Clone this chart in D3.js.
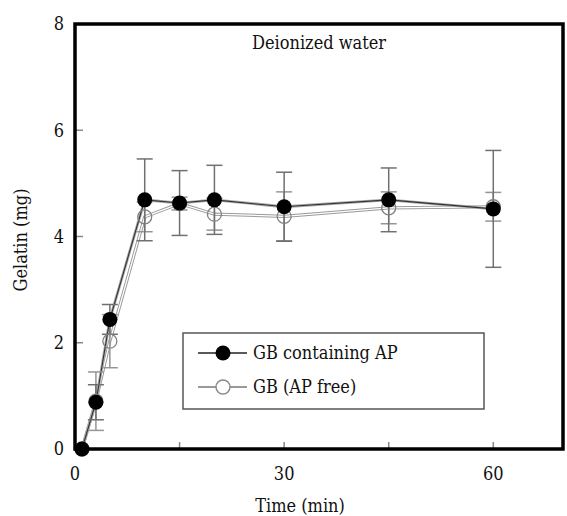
<!DOCTYPE html>
<html>
<head>
<meta charset="utf-8">
<script src="https://cdn.jsdelivr.net/npm/d3@7/dist/d3.min.js"></script>
<style>
  html, body { margin: 0; padding: 0; background: #fff; }
  svg { display: block; }
  svg text { font-family: "DejaVu Serif Condensed", "DejaVu Serif", serif; font-stretch: condensed; }
</style>
</head>
<body>
<svg id="chart" width="567" height="516"></svg>
<script>
// ---- data ----
const times      = [1, 3, 5, 10, 15, 20, 30, 45, 60];
const withAP     = [0, 0.88, 2.44, 4.69, 4.63, 4.69, 4.56, 4.69, 4.52];
const withAPErr  = [0, 0.33, 0.28, 0.77, 0.61, 0.65, 0.65, 0.60, 1.10];
const apFree     = [0, 0.90, 2.03, 4.37, 4.62, 4.42, 4.38, 4.54, 4.56];
const apFreeErr  = [0, 0.55, 0.50, 0.28, 0.12, 0.30, 0.46, 0.30, 0.27];
const xTicks     = [0, 15, 30, 45, 60];
const xTickLabels = ["0", "", "30", "", "60"];
const yTicks     = [0, 2, 4, 6, 8];
const seriesNames = ["GB containing AP", "GB (AP free)"];
const title = "Deionized water";
const xLabel = "Time (min)";
const yLabel = "Gelatin (mg)";

// ---- layout ----
const svg = d3.select("#chart");
const L = 75, R = 563, T = 24, B = 449;
const x = d3.scaleLinear().domain([0, 70]).range([L, R]);
const y = d3.scaleLinear().domain([0, 8]).range([B, T]);

const s1 = times.map((t, i) => ({t, v: withAP[i], e: withAPErr[i]}));
const s2 = times.map((t, i) => ({t, v: apFree[i], e: apFreeErr[i]}));

function txt(sel) { return sel.attr("fill", "#111"); }

// ticks (inward)
const tickColor = "#888";
svg.append("g").selectAll("line").data(yTicks.filter(d => d > 0 && d < 8)).join("line")
  .attr("x1", L).attr("x2", L + 8).attr("y1", d => y(d)).attr("y2", d => y(d))
  .attr("stroke", tickColor).attr("stroke-width", 1.5);
svg.append("g").selectAll("line").data(xTicks.filter(d => d > 0)).join("line")
  .attr("x1", d => x(d)).attr("x2", d => x(d)).attr("y1", B).attr("y2", B - 7)
  .attr("stroke", tickColor).attr("stroke-width", 1.5);

// tick labels
txt(svg.append("g").selectAll("text").data(yTicks).join("text")
  .attr("x", 64).attr("y", d => y(d)).attr("dy", "0.35em")
  .attr("text-anchor", "end").attr("font-size", 18).text(d => d));
txt(svg.append("g").selectAll("text").data(xTicks.map((d, i) => ({d, l: xTickLabels[i]}))).join("text")
  .attr("x", d => x(d.d)).attr("y", 480)
  .attr("text-anchor", "middle").attr("font-size", 18).text(d => d.l));

// axis titles
txt(svg.append("text").attr("x", 300).attr("y", 512).attr("text-anchor", "middle")
  .attr("font-size", 18).text(xLabel));
txt(svg.append("text").attr("transform", "translate(27,240) rotate(-90)")
  .attr("text-anchor", "middle").attr("font-size", 18).text(yLabel));

// title inside plot
txt(svg.append("text").attr("x", 252).attr("y", 49)
  .attr("font-size", 18).text(title));

// lines
const line = d3.line().x(d => x(d.t)).y(d => y(d.v));
svg.append("path").datum(s2).attr("d", line).attr("fill", "none")
  .attr("stroke", "#999").attr("stroke-width", 3.2);
svg.append("path").datum(s2).attr("d", line).attr("fill", "none")
  .attr("stroke", "#fff").attr("stroke-width", 1.3);
svg.append("path").datum(s1).attr("d", line).attr("fill", "none")
  .attr("stroke", "#aaa").attr("stroke-width", 2.8);
svg.append("path").datum(s1).attr("d", line).attr("fill", "none")
  .attr("stroke", "#333").attr("stroke-width", 1.1);

// error bars
function errBars(data, color) {
  const g = svg.append("g").attr("stroke", color).attr("stroke-width", 1.5);
  const d2 = data.filter(d => d.e > 0);
  g.selectAll(".v").data(d2).join("line")
    .attr("x1", d => x(d.t)).attr("x2", d => x(d.t))
    .attr("y1", d => y(d.v - d.e)).attr("y2", d => y(d.v + d.e));
  g.selectAll(".t").data(d2).join("line")
    .attr("x1", d => x(d.t) - 8).attr("x2", d => x(d.t) + 8)
    .attr("y1", d => y(d.v + d.e)).attr("y2", d => y(d.v + d.e));
  g.selectAll(".b").data(d2).join("line")
    .attr("x1", d => x(d.t) - 8).attr("x2", d => x(d.t) + 8)
    .attr("y1", d => y(d.v - d.e)).attr("y2", d => y(d.v - d.e));
}
errBars(s2, "#959595");
errBars(s1, "#707070");

// markers
svg.append("g").selectAll("circle").data(s2).join("circle")
  .attr("cx", d => x(d.t)).attr("cy", d => y(d.v)).attr("r", 7)
  .attr("fill", "none").attr("stroke", "#808080").attr("stroke-width", 1.3);
svg.append("g").selectAll("circle").data(s1).join("circle")
  .attr("cx", d => x(d.t)).attr("cy", d => y(d.v)).attr("r", 7.5)
  .attr("fill", "#000");

// frame
svg.append("rect").attr("x", L).attr("y", T).attr("width", R - L).attr("height", B - T)
  .attr("fill", "none").attr("stroke", "#000").attr("stroke-width", 3.5);

// legend
const lg = svg.append("g");
lg.append("rect").attr("x", 183).attr("y", 333).attr("width", 301).attr("height", 76)
  .attr("fill", "#fff").attr("stroke", "#555").attr("stroke-width", 1.5);
const rows = [353, 387];
lg.append("line").attr("x1", 198).attr("x2", 247).attr("y1", rows[0]).attr("y2", rows[0])
  .attr("stroke", "#222").attr("stroke-width", 1.6);
lg.append("circle").attr("cx", 223).attr("cy", rows[0]).attr("r", 7.5).attr("fill", "#000");
lg.append("line").attr("x1", 198).attr("x2", 247).attr("y1", rows[1]).attr("y2", rows[1])
  .attr("stroke", "#777").attr("stroke-width", 1.6);
lg.append("circle").attr("cx", 223).attr("cy", rows[1]).attr("r", 7)
  .attr("fill", "#fff").attr("stroke", "#888").attr("stroke-width", 1.4);
txt(lg.selectAll("text").data(seriesNames).join("text")
  .attr("x", 253).attr("y", (d, i) => rows[i]).attr("dy", "0.35em")
  .attr("font-size", 18).text(d => d));
</script>
</body>
</html>
